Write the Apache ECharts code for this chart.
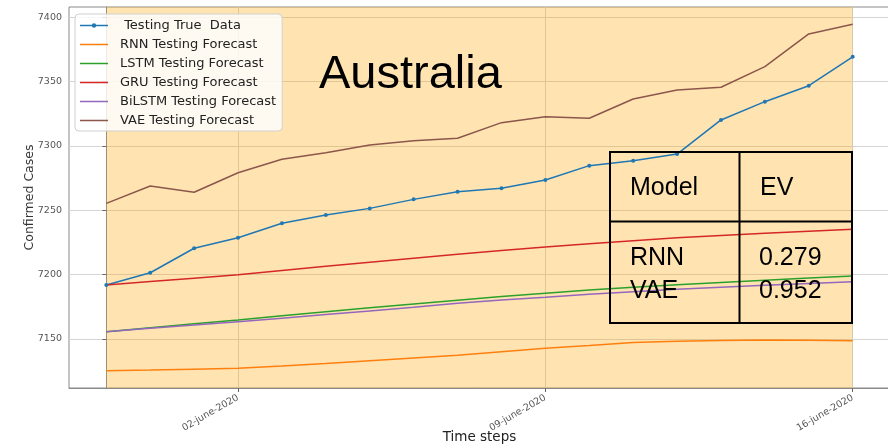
<!DOCTYPE html>
<html>
<head>
<meta charset="utf-8">
<script src="https://cdn.jsdelivr.net/npm/echarts@6/dist/echarts.min.js"></script>
<style>
  html, body { margin: 0; padding: 0; background: #fff; }
  #chart { width: 888px; height: 446px; }
</style>
</head>
<body>
<div id="chart"></div>
<script>
// Daily dates of the testing window
const dates = [
  '30-may-2020', '31-may-2020', '01-june-2020', '02-june-2020', '03-june-2020',
  '04-june-2020', '05-june-2020', '06-june-2020', '07-june-2020', '08-june-2020',
  '09-june-2020', '10-june-2020', '11-june-2020', '12-june-2020', '13-june-2020',
  '14-june-2020', '15-june-2020', '16-june-2020'
];
const tickLabels = ['02-june-2020', '09-june-2020', '16-june-2020'];
const yTicks = [7150, 7200, 7250, 7300, 7350, 7400];

// Confirmed cases and model forecasts
const trueData = [7192.0, 7201.5, 7220.5, 7228.7, 7239.9, 7246.3, 7251.5, 7258.5, 7264.5,
  7267.1, 7273.5, 7284.7, 7288.5, 7293.7, 7320.2, 7334.4, 7346.8, 7369.3];
const rnn = [7125.4, 7125.9, 7126.5, 7127.2, 7129.0, 7131.0, 7133.2, 7135.3, 7137.3,
  7140.2, 7142.8, 7145.0, 7147.3, 7148.3, 7148.9, 7149.2, 7149.1, 7148.7];
const lstm = [7155.7, 7158.7, 7161.8, 7164.8, 7168.0, 7171.2, 7174.3, 7177.3, 7180.2,
  7183.1, 7185.6, 7188.0, 7190.2, 7192.2, 7194.0, 7195.7, 7197.4, 7199.0];
const gru = [7192.0, 7194.7, 7197.3, 7200.0, 7203.3, 7206.5, 7209.7, 7212.8, 7215.8,
  7218.7, 7221.4, 7224.0, 7226.4, 7228.6, 7230.5, 7232.2, 7233.8, 7235.2];
const bilstm = [7155.7, 7158.3, 7160.9, 7163.5, 7166.2, 7169.0, 7171.8, 7174.6, 7177.8,
  7180.4, 7182.5, 7184.7, 7186.8, 7188.7, 7190.3, 7191.8, 7193.2, 7194.5];
const vae = [7255.4, 7268.9, 7264.0, 7279.2, 7289.6, 7294.8, 7300.7, 7304.0, 7306.0,
  7318.1, 7322.7, 7321.5, 7336.5, 7343.5, 7345.6, 7361.6, 7387.0, 7394.5];

// Explained variance table
const evModels = ['RNN', 'VAE'];
const evValues = ['0.279', '0.952'];

const seriesDefs = [
  { name: ' Testing True  Data', data: trueData, color: '#1f77b4', marker: true },
  { name: 'RNN Testing Forecast', data: rnn, color: '#ff7f0e' },
  { name: 'LSTM Testing Forecast', data: lstm, color: '#2ca02c' },
  { name: 'GRU Testing Forecast', data: gru, color: '#d62728' },
  { name: 'BiLSTM Testing Forecast', data: bilstm, color: '#9467bd' },
  { name: 'VAE Testing Forecast', data: vae, color: '#8c564b' }
];

// legend glyphs: a thin line (with a dot for the measured series);
// the tiny end subpaths pin the glyph's bounding box to 28x13
const lineIcon = 'path://M0,0L0.01,0L0.01,0.01Z M0,5.8L28,5.8L28,7.3L0,7.3Z M27.99,13L28,13L28,12.99Z';
const dotIcon = 'path://M0,0L0.01,0L0.01,0.01Z M0,5.8L28,5.8L28,7.3L0,7.3Z M16.2,6.55A2.2,2.2 0 1 1 11.8,6.55A2.2,2.2 0 1 1 16.2,6.55Z M27.99,13L28,13L28,12.99Z';

const xTickValues = tickLabels.map(t => dates.indexOf(t));
const font = 'DejaVu Sans';
const lastIdx = dates.length - 1;
const xPad = lastIdx * 0.05;
const allVals = [].concat(trueData, rnn, lstm, gru, bilstm, vae);
const yLo = Math.min.apply(null, allVals), yHi = Math.max.apply(null, allVals);
const yPad = (yHi - yLo) * 0.05;

const series = [{
  // shaded testing window
  type: 'line', name: 'window', data: [], z: 1, silent: true,
  markArea: {
    silent: true,
    itemStyle: { color: 'rgba(255,165,0,0.3)' },
    data: [[{ xAxis: 0 }, { xAxis: lastIdx }]]
  }
}].concat(seriesDefs.map(s => ({
  type: 'line',
  name: s.name,
  data: s.data.map((v, i) => [i, v]),
  z: 3,
  color: s.color,
  lineStyle: { width: 1.5, color: s.color },
  symbol: s.marker ? 'circle' : 'none',
  symbolSize: s.marker ? 4 : 0,
  showSymbol: !!s.marker,
  itemStyle: { color: s.color },
  animation: false
})));

// EV table drawn as graphic elements
const tbl = { x: 610, y: 152, w: 242, h: 171, colX: 739.5, rowY: 221.5 };
const tFont = '25px "Liberation Sans", Arial';
const tableGraphics = [
  { type: 'rect', shape: { x: tbl.x, y: tbl.y, width: tbl.w, height: tbl.h },
    style: { fill: 'none', stroke: '#000', lineWidth: 2 }, z: 10 },
  { type: 'line', shape: { x1: tbl.colX, y1: tbl.y, x2: tbl.colX, y2: tbl.y + tbl.h },
    style: { stroke: '#000', lineWidth: 2 }, z: 10 },
  { type: 'line', shape: { x1: tbl.x, y1: tbl.rowY, x2: tbl.x + tbl.w, y2: tbl.rowY },
    style: { stroke: '#000', lineWidth: 2 }, z: 10 },
  { type: 'text', x: 630, y: 188, z: 10,
    style: { text: 'Model', font: tFont, fill: '#000', verticalAlign: 'middle' } },
  { type: 'text', x: 760, y: 188, z: 10,
    style: { text: 'EV', font: tFont, fill: '#000', verticalAlign: 'middle' } }
];
evModels.forEach((m, i) => {
  tableGraphics.push({ type: 'text', x: 630, y: 258 + i * 33, z: 10,
    style: { text: m, font: tFont, fill: '#000', verticalAlign: 'middle' } });
  tableGraphics.push({ type: 'text', x: 759, y: 258 + i * 33, z: 10,
    style: { text: evValues[i], font: tFont, fill: '#000', verticalAlign: 'middle' } });
});

const chart = echarts.init(document.getElementById('chart'), null, { renderer: 'canvas' });
chart.setOption({
  animation: false,
  backgroundColor: '#fff',
  grid: {
    left: 69, right: -2, top: 7, bottom: 58,
    outerBoundsMode: 'none', containLabel: false,
    show: true, borderColor: '#8a8a8a', borderWidth: 1, backgroundColor: 'transparent'
  },
  legend: {
    orient: 'vertical', left: 75, top: 14,
    data: seriesDefs.map(s => ({ name: s.name, icon: s.marker ? dotIcon : lineIcon })),
    itemWidth: 28, itemHeight: 13, itemGap: 6,
    padding: [5, 6, 4, 5],
    backgroundColor: 'rgba(255,255,255,0.82)',
    borderColor: '#d0d0d0', borderWidth: 1, borderRadius: 4,
    textStyle: { fontFamily: font, fontSize: 13, color: '#222', padding: [0, 0, 0, 7] },
    selectedMode: false
  },
  xAxis: {
    type: 'value',
    min: -xPad, max: lastIdx + xPad,
    name: 'Time steps', nameLocation: 'middle', nameGap: 42, nameMoveOverlap: false,
    nameTextStyle: { fontFamily: font, fontSize: 13.5, color: '#222' },
    axisLine: { show: true, lineStyle: { color: '#8a8a8a', width: 1 } },
    axisTick: { show: true, customValues: xTickValues, length: 4, lineStyle: { color: '#666' } },
    axisLabel: {
      customValues: xTickValues, rotate: 30, margin: 9,
      fontFamily: font, fontSize: 9.5, color: '#555',
      formatter: v => dates[Math.round(v)]
    },
    splitLine: { show: true, lineStyle: { color: '#d4d4d4', width: 1 } }
  },
  yAxis: {
    type: 'value',
    min: yLo - yPad, max: yHi + yPad,
    name: 'Confirmed Cases', nameLocation: 'middle', nameGap: 33, nameRotate: 90,
    nameMoveOverlap: false,
    nameTextStyle: { fontFamily: font, fontSize: 12.5, color: '#333' },
    axisLine: { show: true, lineStyle: { color: '#8a8a8a', width: 1 } },
    axisTick: { show: true, customValues: yTicks, length: 4, lineStyle: { color: '#666' } },
    axisLabel: {
      customValues: yTicks, margin: 7, fontFamily: font, fontSize: 9.5, color: '#555',
      formatter: v => String(Math.round(v))
    },
    splitLine: { show: true, lineStyle: { color: '#d4d4d4', width: 1 } }
  },
  graphic: [
    { type: 'text', x: 319, y: 75, z: 10,
      style: { text: 'Australia', font: '47px "Liberation Sans", Arial', fill: '#000', verticalAlign: 'middle' } }
  ].concat(tableGraphics),
  series: series
});
</script>
</body>
</html>
